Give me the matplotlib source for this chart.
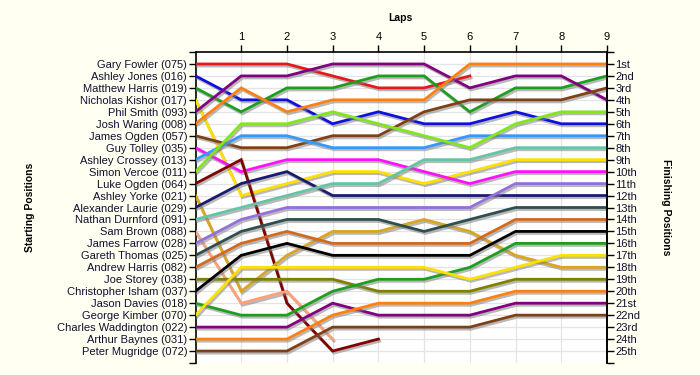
import matplotlib
matplotlib.use("Agg")
import matplotlib.pyplot as plt
import matplotlib.patheffects as pe

drivers = ["Gary Fowler (075)", "Ashley Jones (016)", "Matthew Harris (019)",
           "Nicholas Kishor (017)", "Phil Smith (093)", "Josh Waring (008)",
           "James Ogden (057)", "Guy Tolley (035)", "Ashley Crossey (013)",
           "Simon Vercoe (011)", "Luke Ogden (064)", "Ashley Yorke (021)",
           "Alexander Laurie (029)", "Nathan Durnford (091)", "Sam Brown (088)",
           "James Farrow (028)", "Gareth Thomas (025)", "Andrew Harris (082)",
           "Joe Storey (038)", "Christopher Isham (037)", "Jason Davies (018)",
           "George Kimber (070)", "Charles Waddington (022)", "Arthur Baynes (031)",
           "Peter Mugridge (072)"]

# positions from start (lap 0) through the last completed lap
positions = [
    [1, 1, 1, 2, 3, 3, 2],
    [2, 4, 4, 6, 5, 6, 6, 5, 6, 6],
    [3, 5, 3, 3, 2, 2, 5, 3, 3, 2],
    [4, 12, 11, 10, 10, 11, 10, 9, 9, 9],
    [5, 2, 2, 1, 1, 1, 3, 2, 2, 4],
    [6, 3, 5, 4, 4, 4, 1, 1, 1, 1],
    [7, 8, 8, 7, 7, 5, 4, 4, 4, 3],
    [8, 10, 9, 9, 9, 10, 11, 10, 10, 10],
    [9, 7, 7, 8, 8, 8, 7, 7, 7, 7],
    [10, 6, 6, 5, 6, 7, 8, 6, 5, 5],
    [11, 9, 21, 25, 24],
    [12, 20, 17, 15, 15, 14, 15, 17, 18, 18],
    [13, 11, 10, 12, 12, 12, 12, 12, 12, 12],
    [14, 13, 12, 11, 11, 9, 9, 8, 8, 8],
    [15, 21, 20, 24],
    [16, 14, 13, 13, 13, 13, 13, 11, 11, 11],
    [17, 15, 14, 14, 14, 15, 14, 13, 13, 13],
    [18, 16, 15, 16, 16, 16, 16, 14, 14, 14],
    [19, 19, 19, 19, 20, 20, 20, 19, 19, 19],
    [20, 17, 16, 17, 17, 17, 17, 15, 15, 15],
    [21, 22, 22, 20, 19, 19, 18, 16, 16, 16],
    [22, 18, 18, 18, 18, 18, 19, 18, 17, 17],
    [23, 23, 23, 21, 22, 22, 22, 21, 21, 21],
    [24, 24, 24, 22, 21, 21, 21, 20, 20, 20],
    [25, 25, 25, 23, 23, 23, 23, 22, 22, 22],
]

laps = list(range(0, 10))
lap_labels = [str(i) for i in range(1, 10)]
finish_labels = ["1st", "2nd", "3rd"] + [f"{i}th" for i in range(4, 21)] + \
                ["21st", "22nd", "23rd", "24th", "25th"]

colors = ["#E4191C", "#1010DD", "#1E9E1E", "#FFE000", "#800080", "#FF8010",
          "#804015", "#FF10FF", "#3399FF", "#80E61E", "#800000", "#DAA520",
          "#1A1A70", "#66C4A6", "#FFA07A", "#9370DB", "#2F4F4F", "#D2691E",
          "#808000", "#000000", "#1E9E1E", "#FFE000", "#800080", "#FF8010",
          "#804015"]

fig = plt.figure(figsize=(7, 3.75), dpi=100, facecolor="#FFFFF2")
ax = fig.add_axes([195.5 / 700, 1 - 363 / 375, (607 - 195.5) / 700, (363 - 52) / 375])
ax.set_facecolor("white")

n = len(drivers)
for i, pos in enumerate(positions):
    ax.plot(laps[:len(pos)], pos, color=colors[i], lw=2.0,
            solid_joinstyle="miter", zorder=3,
            path_effects=[pe.SimpleLineShadow(offset=(1, -1.5), shadow_color="#808080", alpha=0.55),
                          pe.Normal()])

ax.set_xlim(0, 9)
ax.set_ylim(n + 1, 0)

# grid
for x in range(1, 10):
    ax.axvline(x, color="#E4E4E4", lw=0.9, zorder=1)
for y in range(1, n + 1):
    ax.axhline(y, color="#E4E4E4", lw=0.9, zorder=1)

ax.xaxis.tick_top()
ax.set_xticks(range(1, 10))
ax.set_xticklabels(lap_labels, fontsize=8, family="Liberation Sans")
ax.tick_params(axis="x", direction="out", length=5, width=1, pad=2)

yt = list(range(0, n + 2))
ax.set_yticks(yt)
ax.set_yticklabels([""] + drivers + [""], fontsize=8, family="Liberation Sans", color="#101030")
ax.tick_params(axis="y", direction="out", length=5, width=1, pad=1)

ax.spines["bottom"].set_visible(False)
for s in ["left", "right", "top"]:
    ax.spines[s].set_linewidth(1.2)

ax2 = ax.twinx()
ax2.set_ylim(n + 1, 0)
ax2.set_yticks(yt)
ax2.set_yticklabels([""] + finish_labels + [""], fontsize=8, family="Liberation Sans", color="#101030")
ax2.tick_params(axis="y", direction="out", length=5, width=1, pad=1)
ax2.spines["bottom"].set_visible(False)
ax2.spines["top"].set_visible(False)
ax2.spines["left"].set_visible(False)
ax2.spines["right"].set_linewidth(1.2)

fig.text(400 / 700, 1 - 18 / 375, "Laps", ha="center", va="center",
         fontsize=7.5, fontweight="bold", family="Liberation Sans")
fig.text(30 / 700, 1 - 207 / 375, "Starting Positions", ha="center", va="center",
         rotation=90, fontsize=7.5, fontweight="bold", family="Liberation Sans")
fig.text(666 / 700, 1 - 207 / 375, "Finishing Positions", ha="center", va="center",
         rotation=-90, fontsize=7.5, fontweight="bold", family="Liberation Sans")

fig.savefig("out.png", dpi=100, facecolor=fig.get_facecolor())
